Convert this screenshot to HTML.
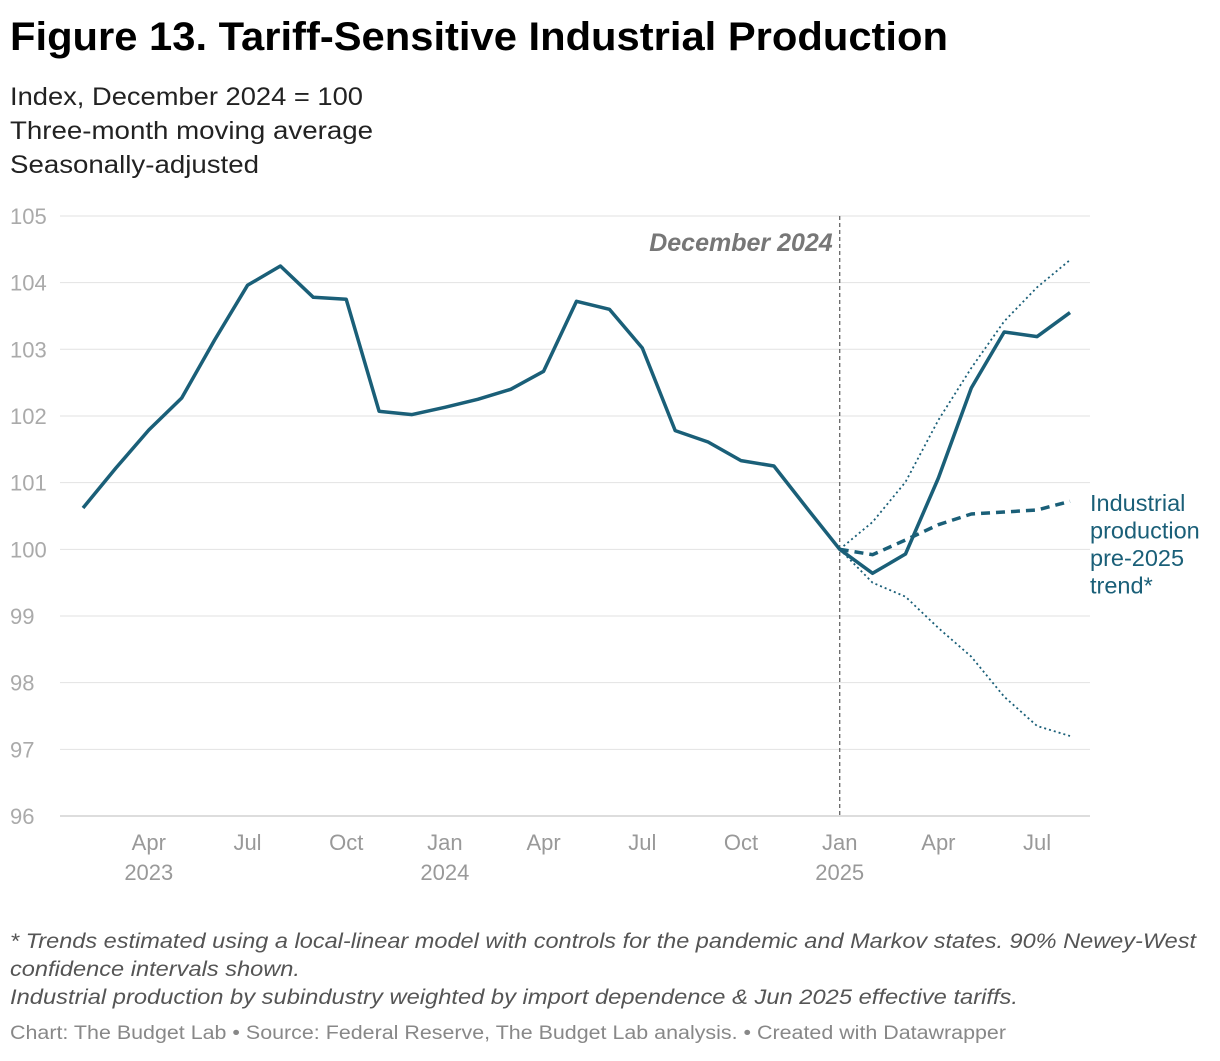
<!DOCTYPE html>
<html><head><meta charset="utf-8"><style>
body{margin:0;background:#fff;width:1220px;height:1056px;overflow:hidden;font-family:"Liberation Sans",sans-serif}
</style></head><body>
<svg width="1220" height="1056">
<text x="10" y="50" font-size="40" font-weight="bold" fill="#000" textLength="938" lengthAdjust="spacingAndGlyphs">Figure 13. Tariff-Sensitive Industrial Production</text>
<text x="10" y="105" font-size="25" fill="#222" textLength="353" lengthAdjust="spacingAndGlyphs">Index, December 2024 = 100</text>
<text x="10" y="139" font-size="25" fill="#222" textLength="363" lengthAdjust="spacingAndGlyphs">Three-month moving average</text>
<text x="10" y="173" font-size="25" fill="#222" textLength="249" lengthAdjust="spacingAndGlyphs">Seasonally-adjusted</text>
<g id="grid"></g><g id="marks"></g>
<text x="10" y="948" font-size="21" font-style="italic" fill="#555" textLength="1186" lengthAdjust="spacingAndGlyphs">* Trends estimated using a local-linear model with controls for the pandemic and Markov states. 90% Newey-West</text>
<text x="10" y="976" font-size="21" font-style="italic" fill="#555" textLength="290" lengthAdjust="spacingAndGlyphs">confidence intervals shown.</text>
<text x="10" y="1004" font-size="21" font-style="italic" fill="#555" textLength="1008" lengthAdjust="spacingAndGlyphs">Industrial production by subindustry weighted by import dependence &amp; Jun 2025 effective tariffs.</text>
<text x="10" y="1039" font-size="19" fill="#888" textLength="996" lengthAdjust="spacingAndGlyphs">Chart: The Budget Lab • Source: Federal Reserve, The Budget Lab analysis. • Created with Datawrapper</text>
</svg>
<script>
const yTicks=[96,97,98,99,100,101,102,103,104,105];
const xTickMonths=[2,5,8,11,14,17,20,23,26,29];
const xTickLabels=["Apr","Jul","Oct","Jan","Apr","Jul","Oct","Jan","Apr","Jul"];
const xTickYears=["2023","","","2024","","","","2025","",""];
const actual=[100.62,101.22,101.79,102.27,103.14,103.96,104.25,103.78,103.75,102.07,102.02,102.13,102.25,102.4,102.67,103.72,103.6,103.02,101.78,101.61,101.33,101.25,100.62,100.0,99.64,99.93,101.07,102.42,103.26,103.19,103.55];
const trend=[100,99.92,100.14,100.37,100.53,100.56,100.59,100.72];
const upper=[100,100.41,101.01,101.94,102.72,103.42,103.93,104.34];
const lower=[100,99.5,99.29,98.82,98.39,97.79,97.35,97.2];
const trendStart=23;
const NS="http://www.w3.org/2000/svg";
const x=m=>83+m*32.9;
const y=v=>816-(v-96)*66.67;
const grid=document.getElementById('grid'),marks=document.getElementById('marks');
function mk(tag,attrs,parent){const e=document.createElementNS(NS,tag);for(const k in attrs)e.setAttribute(k,attrs[k]);parent.appendChild(e);return e;}
yTicks.forEach(v=>{
 const l=mk('line',{x1:60,x2:1090,y1:y(v),y2:y(v),stroke:v===96?'#bbb':'#e2e2e2','stroke-width':1},grid);
 
 
 const t=mk('text',{x:10,y:y(v)+8,'font-size':22,fill:'#aaa'},grid);t.textContent=v;
 
 
});
xTickMonths.forEach((m,i)=>{
 const t=mk('text',{x:x(m),y:850,'font-size':22,fill:'#999','text-anchor':'middle'},grid);t.textContent=xTickLabels[i];
 
 
 if(xTickYears[i]){const t2=mk('text',{x:x(m),y:880,'font-size':22,fill:'#999','text-anchor':'middle'},grid);t2.textContent=xTickYears[i];
 
 }
});
const vl=mk('line',{x1:x(trendStart),x2:x(trendStart),y1:216,y2:816,stroke:'#666','stroke-dasharray':'4,3','stroke-width':1.3},marks);


const vt=mk('text',{x:x(trendStart)-7,y:251,'font-size':25,'font-weight':'bold','font-style':'italic',fill:'#777','text-anchor':'end'},marks);vt.textContent='December 2024';


function path(arr,off,attrs,name){
 const d=arr.map((v,i)=>(i?'L':'M')+x(i+off).toFixed(1)+','+y(v).toFixed(1)).join('');
 const p=mk('path',Object.assign({d,fill:'none',stroke:'#1a5f78','stroke-linejoin':'round'},attrs),marks);
 
 
}
path(upper,trendStart,{'stroke-width':1.8,'stroke-dasharray':'2,3'},'upper-ci-line');
path(lower,trendStart,{'stroke-width':1.8,'stroke-dasharray':'2,3'},'lower-ci-line');
path(trend,trendStart,{'stroke-width':3.5,'stroke-dasharray':'9,6'},'trend-line');
path(actual,0,{'stroke-width':3.5},'actual-line');
["Industrial","production","pre-2025","trend*"].forEach((s,i)=>{
 const t=mk('text',{x:1090,y:511+i*27.5,'font-size':23.5,fill:'#1a5f78'},marks);t.textContent=s;
 
 
});
</script>
</body></html>
